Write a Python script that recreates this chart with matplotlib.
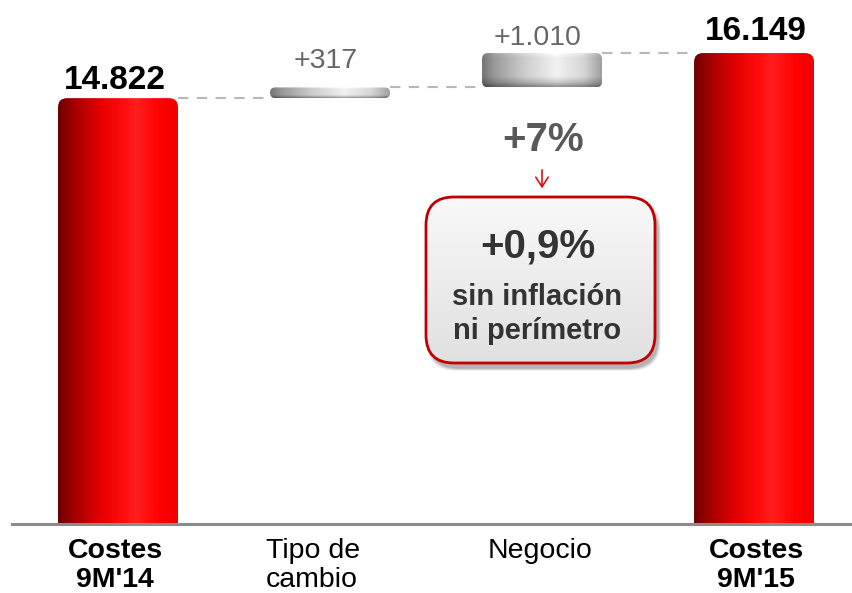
import numpy as np
import matplotlib
matplotlib.use("Agg")
import matplotlib.pyplot as plt
import matplotlib.transforms as mtransforms
from matplotlib.patches import FancyBboxPatch

# ---------------- data ----------------
categories = ["Costes\n9M'14", "Tipo de\ncambio", "Negocio", "Costes\n9M'15"]
start_total = 14822
deltas = [317, 1010]
end_total = 16149
value_labels = ["14.822", "+317", "+1.010", "16.149"]
growth_label = "+7%"
note_title = "+0,9%"
note_text = "sin inflación\nni perímetro"

# ---------------- layout / style ----------------
W, H = 852, 593
plt.rcParams['font.family'] = ['Liberation Sans', 'DejaVu Sans']

fig = plt.figure(figsize=(W / 100, H / 100), dpi=100)
ax_left_px, ax_right_px, ax_bottom_px, ax_top_px = 12, 852, 524, 0
ax = fig.add_axes([ax_left_px / W, (H - ax_bottom_px) / H,
                   (ax_right_px - ax_left_px) / W, (ax_bottom_px - ax_top_px) / H])
XLIM = (-0.50, 3.462)
YLIM = (2290, 17710)
ax.set_xlim(*XLIM)
ax.set_ylim(*YLIM)

x = np.arange(len(categories))
cum = np.cumsum([start_total] + deltas)
bottoms = [0, cum[0], cum[1], 0]
heights = [start_total, deltas[0], deltas[1], end_total]
bar_w = 0.566

bars = ax.bar(x, heights, bottom=bottoms, width=bar_w, color='none', edgecolor='none')

px_per_x = (ax_right_px - ax_left_px) / (XLIM[1] - XLIM[0])
px_per_y = (ax_bottom_px - ax_top_px) / (YLIM[1] - YLIM[0])
aspect = (1 / px_per_y) / (1 / px_per_x)


def red_gradient(n=256):
    stops = [(0.0, (0.42, 0.0, 0.0)), (0.12, (0.62, 0.0, 0.0)), (0.35, (0.90, 0.0, 0.0)),
             (0.55, (1.0, 0.05, 0.05)), (0.65, (1.0, 0.12, 0.12)), (0.85, (1.0, 0.0, 0.0)),
             (1.0, (0.94, 0.0, 0.0))]
    t = np.linspace(0, 1, n)
    pos = [s[0] for s in stops]
    rgb = np.stack([np.interp(t, pos, [s[1][c] for s in stops]) for c in range(3)], axis=-1)
    return rgb


def grey_gradient(n=256):
    stops = [(0.0, 0.45), (0.1, 0.60), (0.35, 0.80), (0.62, 0.95), (0.85, 0.84), (1.0, 0.62)]
    t = np.linspace(0, 1, n)
    v = np.interp(t, [s[0] for s in stops], [s[1] for s in stops])
    return np.stack([v, v, v], axis=-1)


for i, b in enumerate(bars):
    x0, y0 = b.get_x(), b.get_y()
    w, h = b.get_width(), b.get_height()
    total = i in (0, 3)
    r_px = 9 if total else min(6, h * px_per_y / 2)
    r = r_px / px_per_x
    clip = FancyBboxPatch((x0, y0), w, h, boxstyle=f"round,pad=0,rounding_size={r}",
                          mutation_aspect=aspect, transform=ax.transData,
                          facecolor='none', edgecolor='none')
    ax.add_patch(clip)
    if total:
        row = red_gradient()
        img = np.repeat(row[np.newaxis, :, :], 2, axis=0)
    else:
        row = grey_gradient()
        nv = 64
        tv = np.linspace(0, 1, nv)  # 0 = bottom, 1 = top (origin lower)
        shade = np.interp(tv, [0, 0.12, 0.3, 0.85, 1.0], [0.6, 0.82, 1.0, 1.0, 1.08])
        img = np.clip(row[np.newaxis, :, :] * shade[:, np.newaxis, np.newaxis], 0, 1)
    im = ax.imshow(img, extent=[x0, x0 + w, y0, y0 + h], origin='lower',
                   aspect='auto', interpolation='bilinear', zorder=2)
    im.set_clip_path(clip)

ax.set_xlim(*XLIM)
ax.set_ylim(*YLIM)

# connectors
levels = [start_total, cum[1], end_total]
for i, lvl in enumerate(levels):
    ax.plot([x[i] + bar_w / 2, x[i + 1] - bar_w / 2], [lvl, lvl], color='#b8b8b8',
            lw=1.5, ls=(0, (5, 4)), zorder=1)

# value labels
label_offsets_px = [9, 19, 8, 13]
label_dx_pt = [-2, -3, -3, 1]
tops = [start_total, cum[1], cum[2], end_total]
for i, (lab, top) in enumerate(zip(value_labels, tops)):
    total = i in (0, 3)
    ax.annotate(lab, (x[i], top), xytext=(label_dx_pt[i], label_offsets_px[i] * 0.72),
                textcoords='offset points', ha='center', va='baseline',
                fontsize=24 if total else 20.5, fontweight='bold' if total else 'normal',
                color='black' if total else '#666666', annotation_clip=False)

# baseline
ax.axhline(YLIM[0], color='#8c8c8c', lw=2.2, zorder=3, clip_on=False)

# category labels (drawn as text on a blended data/axes transform)
ax.set_xticks([])
ax.set_yticks([])
blend = mtransforms.blended_transform_factory(ax.transData, ax.transAxes)
tick_dx_px = [-3, -17, -2, 2]
for i, cat in enumerate(categories):
    total = i in (0, 3)
    tr = blend + mtransforms.ScaledTranslation(tick_dx_px[i] / 100, -14 / 100,
                                               fig.dpi_scale_trans)
    ax.text(x[i], 0, cat, transform=tr, ha='center', va='top',
            multialignment='center' if total else 'left',
            fontsize=20.5, fontweight='bold' if total else 'normal',
            color='black', linespacing=1.17, clip_on=False)
for s in ax.spines.values():
    s.set_visible(False)

# overlay in pixel coordinates for the annotation box
ov = fig.add_axes([0, 0, 1, 1], zorder=5)
ov.set_xlim(0, W)
ov.set_ylim(H, 0)
ov.axis('off')
ov.patch.set_alpha(0)

ov.text(543, 151, growth_label, ha='center', va='baseline', fontsize=29,
        fontweight='bold', color='#595959')
ov.annotate('', xy=(542, 191), xytext=(542, 167),
            arrowprops=dict(arrowstyle='->,head_length=0.7,head_width=0.45',
                            color='#e00000', lw=1.1))

bx, by, bw, bh = 426, 197, 229, 166
# shadow
for k, a in zip(range(6, 0, -1), [0.03, 0.04, 0.05, 0.06, 0.07, 0.08]):
    sh = FancyBboxPatch((bx + 3 - k / 2, by + 5 - k / 2), bw + k, bh + k,
                        boxstyle="round,pad=0,rounding_size=30",
                        facecolor='black', edgecolor='none', alpha=a)
    ov.add_patch(sh)
box = FancyBboxPatch((bx, by), bw, bh, boxstyle="round,pad=0,rounding_size=28",
                     facecolor='none', edgecolor='none')
ov.add_patch(box)
grad = np.linspace(0.975, 0.88, 64)
gimg = np.stack([grad, grad, grad], axis=-1)[:, np.newaxis, :].repeat(2, axis=1)
gi = ov.imshow(gimg, extent=[bx, bx + bw, by + bh, by], aspect='auto',
               interpolation='bilinear', zorder=1)
gi.set_clip_path(box)
border = FancyBboxPatch((bx, by), bw, bh, boxstyle="round,pad=0,rounding_size=28",
                        facecolor='none', edgecolor='#c00000', lw=2, zorder=2)
ov.add_patch(border)
ov.set_xlim(0, W)
ov.set_ylim(H, 0)

ov.text(538, 258, note_title, ha='center', va='baseline', fontsize=29,
        fontweight='bold', color='#333333', zorder=3)
ov.text(537, 314, note_text, ha='center', va='center', fontsize=21,
        fontweight='bold', color='#333333', linespacing=1.25, zorder=3)

fig.savefig('out.png', dpi=100)
